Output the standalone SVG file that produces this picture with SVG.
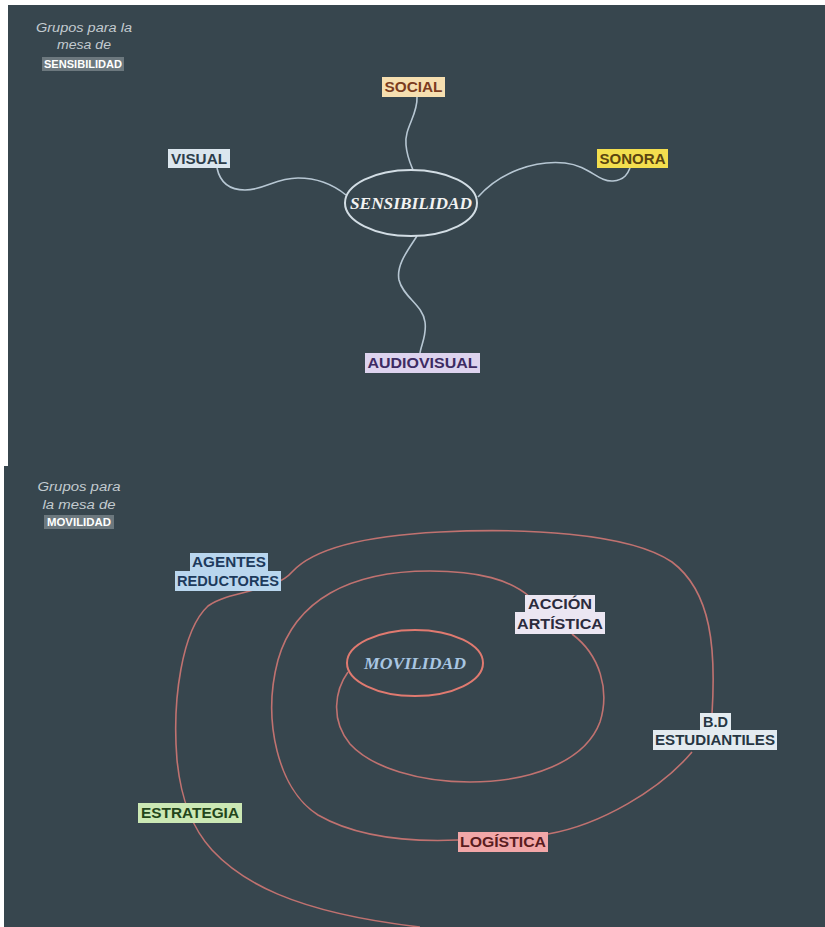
<svg xmlns="http://www.w3.org/2000/svg" width="825" height="927" viewBox="0 0 825 927">
<style>
.bg{fill:#37464e}
.lbl{font-family:"Liberation Sans",Arial,sans-serif;font-weight:bold;font-size:14px;text-anchor:middle}
.ttl{font-family:"Liberation Sans",Arial,sans-serif;font-style:italic;font-size:12.5px;fill:#c3cbd0;text-anchor:middle}
.ttlb{font-family:"Liberation Sans",Arial,sans-serif;font-weight:bold;font-size:11px;fill:#ffffff;text-anchor:middle}
.center{font-family:"Liberation Serif","Times New Roman",serif;font-weight:bold;font-style:italic;font-size:17px;text-anchor:middle}
.c1{fill:none;stroke:#b7c7d3;stroke-width:1.6}
.c2{fill:none;stroke:#c07270;stroke-width:1.6}
</style>
<rect x="0" y="0" width="825" height="927" fill="#ffffff"/>
<rect class="bg" x="8" y="5" width="817" height="461"/>
<rect class="bg" x="4" y="466" width="821" height="461"/>

<g id="title-top">
<text class="ttl" x="84" y="32" textLength="96" lengthAdjust="spacingAndGlyphs">Grupos para la</text>
<text class="ttl" x="84" y="49" textLength="54" lengthAdjust="spacingAndGlyphs">mesa de</text>
<rect x="42" y="57" width="82" height="14" fill="#6c787e"/>
<text class="ttlb" x="83" y="68" textLength="78" lengthAdjust="spacingAndGlyphs">SENSIBILIDAD</text>
</g>

<g id="connectors-top">
<path class="c1" d="M417,97 C418,115 404,128 406,145 C407,157 411,165 413,170"/>
<path class="c1" d="M217,168 C220,182 228,190 245,190 C265,190 275,178 298,178 C320,178 335,186 346,195"/>
<path class="c1" d="M478,197 C500,172 535,160 565,163 C590,166 598,182 613,181 C625,180 628,173 630,168"/>
<path class="c1" d="M417,236 C408,250 396,265 399,280 C403,297 423,305 425,322 C427,335 421,345 420,353"/>
</g>

<g id="node-sensibilidad">
<ellipse cx="411" cy="203" rx="66" ry="33" fill="none" stroke="#d2dde4" stroke-width="2"/>
<text class="center" x="411" y="209" fill="#f2f2f2" textLength="122" lengthAdjust="spacingAndGlyphs">SENSIBILIDAD</text>
</g>
<g id="node-social">
<rect x="382" y="77" width="63" height="20" fill="#f6dfb0"/>
<text class="lbl" x="413.5" y="92" fill="#7b3b1e" textLength="58" lengthAdjust="spacingAndGlyphs">SOCIAL</text>
</g>
<g id="node-visual">
<rect x="168" y="149" width="62" height="19" fill="#dbe6ee"/>
<text class="lbl" x="199" y="164" fill="#2c3d4a" textLength="56" lengthAdjust="spacingAndGlyphs">VISUAL</text>
</g>
<g id="node-sonora">
<rect x="597" y="149" width="71" height="19" fill="#f3de4e"/>
<text class="lbl" x="632.5" y="164" fill="#5a4410" textLength="66" lengthAdjust="spacingAndGlyphs">SONORA</text>
</g>
<g id="node-audiovisual">
<rect x="365" y="353" width="115" height="20" fill="#ddd3ee"/>
<text class="lbl" x="422.5" y="368" fill="#3d2b63" textLength="110" lengthAdjust="spacingAndGlyphs">AUDIOVISUAL</text>
</g>

<g id="title-bottom">
<text class="ttl" x="79" y="491" textLength="83" lengthAdjust="spacingAndGlyphs">Grupos para</text>
<text class="ttl" x="79" y="509" textLength="73" lengthAdjust="spacingAndGlyphs">la mesa de</text>
<rect x="44" y="515" width="70" height="14" fill="#6c787e"/>
<text class="ttlb" x="79" y="526" textLength="64" lengthAdjust="spacingAndGlyphs">MOVILIDAD</text>
</g>

<g id="connectors-bottom">
<path class="c2" d="M348,672 C335,690 330,720 350,744 C372,768 420,782 470,782 C530,782 585,762 600,722 C610,690 600,655 572,634"/>
<path class="c2" d="M530,597 C510,580 480,571 430,571 C350,571 295,600 278,660 C262,720 278,790 318,815 C358,838 410,842 458,840"/>
<path class="c2" d="M548,834 C600,825 660,790 692,752"/>
<path class="c2" d="M712,714 C716,650 712,592 672,562 C628,532 520,528 440,532 C360,536 312,550 292,572 C275,592 230,590 208,606 C182,630 172,700 177,760 C181,800 192,828 212,850 C240,880 290,912 420,927"/>
</g>

<g id="node-movilidad">
<ellipse cx="415" cy="663" rx="68" ry="33" fill="none" stroke="#e07a70" stroke-width="2"/>
<text class="center" x="415" y="669" fill="#a9c6e2" textLength="102" lengthAdjust="spacingAndGlyphs">MOVILIDAD</text>
</g>
<g id="node-agentes">
<rect x="190" y="553" width="78" height="18" fill="#b9d6ee"/>
<rect x="175" y="571" width="106" height="20" fill="#b9d6ee"/>
<text class="lbl" x="229" y="567" fill="#1d3a5c" textLength="74" lengthAdjust="spacingAndGlyphs">AGENTES</text>
<text class="lbl" x="228" y="586" fill="#1d3a5c" textLength="102" lengthAdjust="spacingAndGlyphs">REDUCTORES</text>
</g>
<g id="node-accion">
<rect x="525" y="595" width="70" height="17" fill="#ebe6f2"/>
<rect x="515" y="612" width="90" height="22" fill="#ebe6f2"/>
<text class="lbl" x="560" y="609" fill="#2b2b3d" textLength="64" lengthAdjust="spacingAndGlyphs">ACCIÓN</text>
<text class="lbl" x="560" y="629" fill="#2b2b3d" textLength="86" lengthAdjust="spacingAndGlyphs">ARTÍSTICA</text>
</g>
<g id="node-bd">
<rect x="700" y="713" width="31" height="17" fill="#e3ebf0"/>
<rect x="653" y="730" width="124" height="20" fill="#e3ebf0"/>
<text class="lbl" x="715.5" y="727" fill="#263642" textLength="25" lengthAdjust="spacingAndGlyphs">B.D</text>
<text class="lbl" x="715" y="745" fill="#263642" textLength="120" lengthAdjust="spacingAndGlyphs">ESTUDIANTILES</text>
</g>
<g id="node-estrategia">
<rect x="138" y="803" width="104" height="20" fill="#cbe8b4"/>
<text class="lbl" x="190" y="818" fill="#23451a" textLength="98" lengthAdjust="spacingAndGlyphs">ESTRATEGIA</text>
</g>
<g id="node-logistica">
<rect x="458" y="832" width="90" height="20" fill="#f2a7a8"/>
<text class="lbl" x="503" y="847" fill="#5a1c1e" textLength="86" lengthAdjust="spacingAndGlyphs">LOGÍSTICA</text>
</g>
</svg>
